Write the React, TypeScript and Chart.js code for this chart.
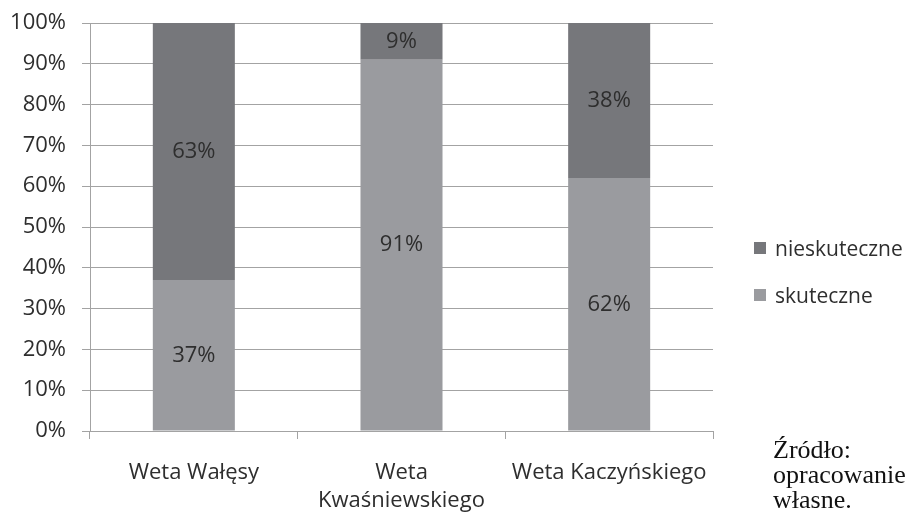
import React, { useEffect, useRef } from "react";
import { Chart, registerables } from "chart.js";

Chart.register(...registerables);

const categories: (string | string[])[] = ["Weta Wałęsy", ["Weta", "Kwaśniewskiego"], "Weta Kaczyńskiego"];
const skuteczne = [37, 91, 62];
const nieskuteczne = [63, 9, 38];
const yTicks = [0, 10, 20, 30, 40, 50, 60, 70, 80, 90, 100];
const legendItems = ["nieskuteczne", "skuteczne"];
const sourceLines = ["Źródło:", "opracowanie", "własne."];

const DARK = "#76777b";
const LIGHT = "#9a9b9f";
const TEXT = "#2e2e2e";
const GRID = "#a3a3a3";
const FONT = "'Open Sans', sans-serif";

const labelPlugin = {
  id: "segLabels",
  afterDatasetsDraw(chart: any) {
    const ctx = chart.ctx;
    ctx.save();
    ctx.font = `22px ${FONT}`;
    ctx.fillStyle = TEXT;
    ctx.textAlign = "center";
    ctx.textBaseline = "middle";
    chart.data.datasets.forEach((ds: any, di: number) => {
      const meta = chart.getDatasetMeta(di);
      meta.data.forEach((bar: any, i: number) => {
        const v = ds.data[i];
        const y = (bar.y + bar.base) / 2;
        ctx.fillText(v + "%", bar.x, y);
      });
    });
    ctx.restore();
  },
};

export default function App() {
  const ref = useRef<HTMLCanvasElement>(null);
  useEffect(() => {
    document.body.style.margin = "0";
    const chart = new Chart(ref.current!, {
      type: "bar",
      data: {
        labels: categories,
        datasets: [
          { label: "skuteczne", data: skuteczne, backgroundColor: LIGHT, barPercentage: 0.395, categoryPercentage: 1 },
          { label: "nieskuteczne", data: nieskuteczne, backgroundColor: DARK, barPercentage: 0.395, categoryPercentage: 1 },
        ],
      },
      options: {
        animation: false,
        responsive: false,
        maintainAspectRatio: false,
        layout: { padding: { left: 0, top: 23, right: 200, bottom: 0 } },
        plugins: { legend: { display: false }, tooltip: { enabled: false } },
        scales: {
          x: {
            stacked: true,
            grid: { offset: true, drawOnChartArea: false, drawTicks: true, tickLength: 8, color: GRID },
            border: { color: GRID },
            ticks: { color: TEXT, font: { family: FONT, size: 22, lineHeight: 1.3 }, padding: 19, maxRotation: 0, autoSkip: false },
            afterFit: (s: any) => { s.height = 81; s.paddingLeft = 0; s.paddingRight = 0; },
          },
          y: {
            stacked: true,
            min: 0,
            max: 100,
            afterBuildTicks: (s: any) => { s.ticks = yTicks.map((v) => ({ value: v })); },
            grid: { color: GRID, tickLength: 8 },
            border: { color: GRID },
            ticks: { color: TEXT, font: { family: FONT, size: 22 }, padding: 16, callback: (v: any) => v + "%" },
            afterFit: (s: any) => { s.width = 90; s.paddingTop = 0; s.paddingBottom = 0; },
          },
        },
      },
      plugins: [labelPlugin],
    });
    return () => chart.destroy();
  }, []);

  return (
    <div style={{ position: "relative", width: 913, height: 512, background: "#fff", overflow: "hidden" }}>
      <canvas ref={ref} width={913} height={512} style={{ position: "absolute", left: 0, top: 0 }} />
      {legendItems.map((t, i) => (
        <div key={t} style={{ position: "absolute", left: 754, top: 234 + i * 47, height: 28, display: "flex", alignItems: "center", fontFamily: FONT, fontSize: 21, color: TEXT, whiteSpace: "nowrap" }}>
          <span style={{ display: "inline-block", width: 12, height: 12, background: i === 0 ? DARK : LIGHT, marginRight: 9 }} />
          {t}
        </div>
      ))}
      <div style={{ position: "absolute", left: 773, top: 437, fontFamily: "'Liberation Serif', 'Times New Roman', serif", fontSize: 26, lineHeight: "25px", color: "#111" }}>
        {sourceLines.map((l) => (<div key={l}>{l}</div>))}
      </div>
    </div>
  );
}
